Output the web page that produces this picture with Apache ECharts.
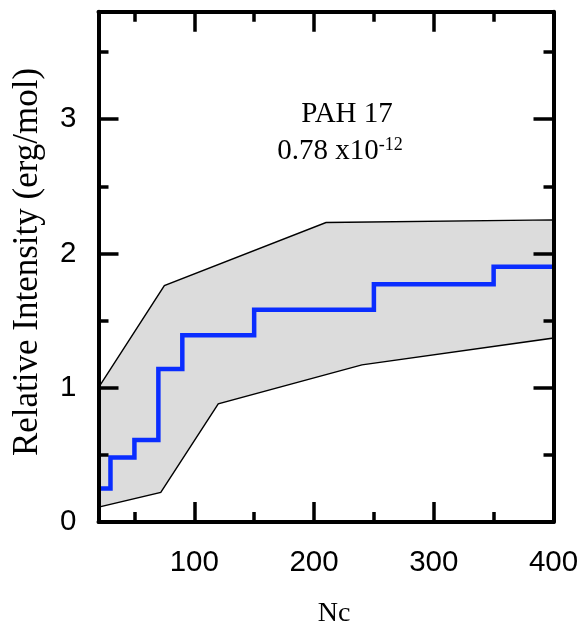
<!DOCTYPE html>
<html>
<head>
<meta charset="utf-8">
<script src="https://cdn.jsdelivr.net/npm/echarts@6/dist/echarts.min.js"></script>
<style>
  html, body { margin: 0; padding: 0; background: #fff; }
  #chart { width: 587px; height: 636px; }
</style>
</head>
<body>
<div id="chart"></div>
<script>
// Step curve: carbon number Nc vs relative intensity
const stepNc = [20, 30, 50, 70, 90, 150, 250, 350, 400];
const stepIntensity = [0.25, 0.48, 0.61, 1.14, 1.39, 1.58, 1.77, 1.90, 1.90];

// Envelope (upper and lower bounds)
const upperNc = [20, 75, 210, 400];
const upperIntensity = [1.00, 1.76, 2.23, 2.25];
const lowerNc = [20, 72, 120, 240, 400];
const lowerIntensity = [0.11, 0.22, 0.88, 1.17, 1.37];

// Axis ticks
const xMajorTicks = [100, 200, 300, 400];
const xMinorTicks = [50, 150, 250, 350];
const yMajorTicks = [0, 1, 2, 3];
const yMinorTicks = [0.5, 1.5, 2.5, 3.5];

const xMin = 20, xMax = 400, yMin = 0, yMax = 3.8;

const chart = echarts.init(document.getElementById('chart'));

const tickFont = { fontFamily: 'Liberation Sans', fontSize: 29.5, color: '#000' };

// One axis per tick family; the frame line comes from the major-tick axes
function axis(pos, min, max, ticks, len, showLine, showLabel, margin) {
  return {
    type: 'value', min: min, max: max, position: pos, gridIndex: 0, z: 5,
    axisLine: { show: showLine, onZero: false, lineStyle: { color: '#000', width: 4 } },
    axisTick: { show: true, inside: true, length: len, customValues: ticks,
                lineStyle: { color: '#000', width: 3.5 } },
    axisLabel: showLabel
      ? Object.assign({ show: true, margin: margin, customValues: ticks }, tickFont)
      : { show: false },
    splitLine: { show: false }
  };
}

const stepData = stepNc.map((n, i) => [n, stepIntensity[i]]);
const bandPoints = upperNc.map((n, i) => [n, upperIntensity[i]])
  .concat(lowerNc.map((n, i) => [n, lowerIntensity[i]]).reverse());

chart.setOption({
  animation: false,
  backgroundColor: '#fff',
  grid: { left: 98.5, right: 33.5, top: 11.7, bottom: 114, containLabel: false },
  xAxis: [
    axis('bottom', xMin, xMax, xMajorTicks, 20, true, true, 26),
    axis('bottom', xMin, xMax, xMinorTicks, 10, false, false),
    axis('top', xMin, xMax, xMajorTicks, 20, true, false),
    axis('top', xMin, xMax, xMinorTicks, 10, false, false)
  ],
  yAxis: [
    axis('left', yMin, yMax, yMajorTicks, 20, true, true, 22),
    axis('left', yMin, yMax, yMinorTicks, 10, false, false),
    axis('right', yMin, yMax, yMajorTicks, 20, true, false),
    axis('right', yMin, yMax, yMinorTicks, 10, false, false)
  ],
  graphic: [
    {
      type: 'text', rotation: Math.PI / 2, position: [28, 262],
      style: {
        text: 'Relative Intensity (erg/mol)',
        font: '35px "Liberation Serif"', fill: '#000',
        align: 'center', verticalAlign: 'middle'
      }
    },
    {
      type: 'text', position: [334, 614],
      style: {
        text: 'Nc', font: '28px "Liberation Serif"', fill: '#000',
        align: 'center', verticalAlign: 'middle'
      }
    },
    {
      type: 'text', position: [347, 114],
      style: {
        text: 'PAH 17', font: '29px "Liberation Serif"', fill: '#000',
        align: 'center', verticalAlign: 'middle'
      }
    },
    {
      type: 'text', position: [340, 151],
      style: {
        text: '{b|0.78 x10}{s|-12}',
        align: 'center', verticalAlign: 'middle',
        rich: {
          b: { font: '29px "Liberation Serif"', fill: '#000' },
          s: { font: '18px "Liberation Serif"', fill: '#000', verticalAlign: 'top', padding: [0, 0, 12, 0] }
        }
      }
    }
  ],
  series: [
    {
      type: 'custom',
      xAxisIndex: 0, yAxisIndex: 0,
      data: [0],
      silent: true,
      z: 1,
      renderItem: function (params, api) {
        const pts = bandPoints.map(p => api.coord(p));
        return {
          type: 'polygon',
          shape: { points: pts },
          style: { fill: '#dcdcdc', stroke: '#000', lineWidth: 1.4 }
        };
      }
    },
    {
      type: 'line',
      xAxisIndex: 0, yAxisIndex: 0,
      step: 'end',
      data: stepData,
      showSymbol: false,
      z: 3,
      lineStyle: { color: '#0a2dff', width: 4.5, join: 'miter' }
    }
  ]
});
</script>
</body>
</html>
